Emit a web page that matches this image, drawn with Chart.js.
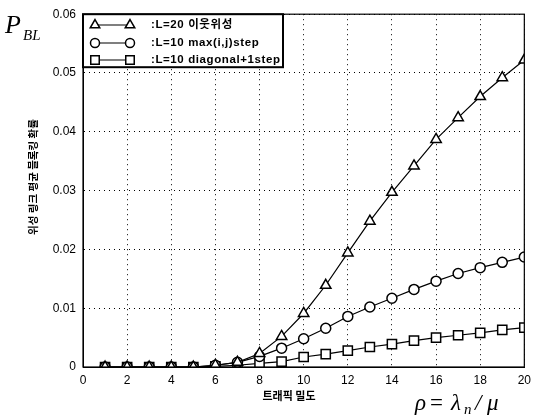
<!DOCTYPE html>
<html>
<head>
<meta charset="utf-8">
<script src="https://cdn.jsdelivr.net/npm/chart.js@4/dist/chart.umd.min.js"></script>
<style>
  html, body { margin: 0; padding: 0; background: #fff; }
  canvas { display: block; }
</style>
</head>
<body>
<canvas id="c" width="537" height="416"></canvas>
<script>
// traffic density (rho)
const rho = [1, 2, 3, 4, 5, 6, 7, 8, 9, 10, 11, 12, 13, 14, 15, 16, 17, 18, 19, 20];
const neighbourSat = [0, 0, 0, 0, 0, 0.0003, 0.0008, 0.0023, 0.0052, 0.0091, 0.0139, 0.0194, 0.0248, 0.0297, 0.0342, 0.0387, 0.0424, 0.0460, 0.0492, 0.0522];
const maxStep = [0, 0, 0, 0, 0, 0.0003, 0.0008, 0.0018, 0.0032, 0.0048, 0.0066, 0.0086, 0.0102, 0.0117, 0.0132, 0.0146, 0.0159, 0.0169, 0.0178, 0.0187];
const diagStep = [0, 0, 0, 0, 0, 0.0001, 0.0003, 0.0006, 0.0009, 0.0017, 0.0022, 0.0028, 0.0034, 0.0039, 0.0045, 0.0050, 0.0054, 0.0058, 0.0063, 0.0067];
const legendLabels = [':L=20 이웃위성', ':L=10 max(i,j)step', ':L=10 diagonal+1step'];
const markerStyles = ['triangle', 'circle', 'rect'];
const markerSizes = [6, 5, 6.5];
const yTitle = '위성 링크 평균 블록킹 확률';
const xTitle = '트래픽 밀도';

const toPoints = (ys) => ys.map((y, i) => ({ x: rho[i], y }));

const makeSet = (label, ys, i) => ({
  label,
  data: toPoints(ys),
  borderColor: '#000',
  borderWidth: 1.2,
  pointStyle: markerStyles[i],
  pointRadius: markerSizes[i],
  pointBackgroundColor: '#fff',
  pointBorderColor: '#000',
  pointBorderWidth: 1.5,
  tension: 0,
  fill: false,
});

const extras = {
  id: 'extras',
  afterDraw(chart) {
    const { ctx, chartArea: a } = chart;
    ctx.save();
    // frame
    ctx.strokeStyle = '#000';
    ctx.lineWidth = 1.2;
    ctx.strokeRect(a.left, a.top, a.right - a.left, a.bottom - a.top);

    // legend box
    const bx = a.left, by = a.top, bw = 200, bh = 53;
    ctx.fillStyle = '#fff';
    ctx.fillRect(bx, by, bw, bh);
    ctx.lineWidth = 2;
    ctx.strokeRect(bx, by, bw, bh);
    const rows = [25, 43, 60];
    legendLabels.forEach((txt, i) => {
      const y = rows[i];
      ctx.strokeStyle = '#000';
      ctx.lineWidth = 1.2;
      ctx.beginPath();
      ctx.moveTo(95, y);
      ctx.lineTo(130, y);
      ctx.stroke();
      const opts = { pointStyle: markerStyles[i], radius: markerSizes[i] - 0.5, borderWidth: 1.5 };
      ctx.fillStyle = '#fff';
      ctx.lineWidth = 1.5;
      Chart.helpers.drawPoint(ctx, opts, 95, y);
      Chart.helpers.drawPoint(ctx, opts, 130, y);
      ctx.fillStyle = '#000';
      ctx.font = 'bold 11.5px "Liberation Sans", "Noto Sans CJK KR", sans-serif';
      ctx.letterSpacing = '0.6px';
      ctx.textAlign = 'left';
      ctx.textBaseline = 'middle';
      ctx.fillText(txt, 151, y);
      ctx.letterSpacing = '0px';
    });

    // axis titles
    ctx.fillStyle = '#000';
    ctx.textAlign = 'center';
    ctx.textBaseline = 'middle';
    ctx.font = 'bold 10.5px "Noto Sans CJK KR", sans-serif';
    ctx.save();
    ctx.translate(33, 177);
    ctx.rotate(-Math.PI / 2);
    ctx.fillText(yTitle, 0, 0);
    ctx.restore();
    ctx.font = 'bold 11px "Noto Sans CJK KR", sans-serif';
    ctx.fillText(xTitle, 289, 396);

    // P_BL
    ctx.textAlign = 'left';
    ctx.textBaseline = 'alphabetic';
    ctx.font = 'italic 26px "Liberation Serif", serif';
    ctx.fillText('P', 5, 33);
    ctx.font = 'italic 15px "Liberation Serif", serif';
    ctx.fillText('BL', 23, 40);

    // rho = lambda_n / mu
    const parts = [
      ['ρ', 'italic 23px "Liberation Serif", serif', 415, 0],
      ['=', '23px "Liberation Serif", serif', 430, 0],
      ['λ', 'italic 23px "Liberation Serif", serif', 451, 0],
      ['n', 'italic 15px "Liberation Serif", serif', 464, 4],
      ['/', 'italic 23px "Liberation Serif", serif', 475, 0],
      ['μ', 'italic 23px "Liberation Serif", serif', 487, 0],
    ];
    parts.forEach(([s, f, px, dy]) => {
      ctx.font = f;
      ctx.fillText(s, px, 410 + dy);
    });
    ctx.restore();
  },
};

const tickFont = { family: '"Liberation Sans", Arial, sans-serif', size: 12 };

new Chart(document.getElementById('c'), {
  type: 'line',
  data: {
    datasets: [
      makeSet(legendLabels[0], neighbourSat, 0),
      makeSet(legendLabels[1], maxStep, 1),
      makeSet(legendLabels[2], diagStep, 2),
    ],
  },
  options: {
    responsive: false,
    animation: false,
    layout: { padding: { left: 0, right: 7, top: 12, bottom: 0 } },
    plugins: { legend: { display: false }, tooltip: { enabled: false } },
    scales: {
      x: {
        type: 'linear',
        min: 0,
        max: 20,
        afterFit(s) { s.height = 49; },
        ticks: { stepSize: 2, color: '#000', font: tickFont, padding: 6, maxRotation: 0 },
        grid: { color: '#000', lineWidth: 1, drawTicks: false },
        border: { display: true, color: '#000', dash: [1, 4] },
      },
      y: {
        min: 0,
        max: 0.06,
        afterFit(s) { s.width = 83; },
        ticks: {
          stepSize: 0.01,
          color: '#000',
          font: tickFont,
          padding: 7,
          callback: (v) => (v === 0 ? '0' : v.toFixed(2)),
        },
        grid: { color: '#000', lineWidth: 1, drawTicks: false },
        border: { display: true, color: '#000', dash: [1, 4] },
      },
    },
  },
  plugins: [extras],
});
</script>
</body>
</html>
